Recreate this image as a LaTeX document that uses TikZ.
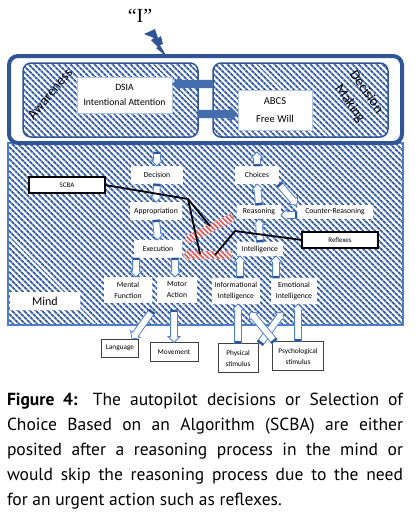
\documentclass[tikz,border=0pt]{standalone}
\usepackage{fontspec}
\setmainfont{Carlito}
\newfontfamily\capfont{PT Sans}
\newfontfamily\quotefont{Liberation Serif}
\usetikzlibrary{calc,patterns.meta,shapes.arrows}

\definecolor{frameblue}{RGB}{47,85,151}
\definecolor{hatchblue}{RGB}{50,92,168}
\definecolor{arrowblue}{RGB}{80,130,205}
\definecolor{mindblue}{RGB}{78,124,201}
\definecolor{barred}{RGB}{226,88,88}

\begin{document}
\begin{tikzpicture}[x=1pt,y=-1pt,every node/.style={outer sep=0pt}]
\tikzset{
    hatch/.style    = {pattern={Lines[angle=-45,distance=4pt,line width=2pt]},pattern color=hatchblue},
    inbox/.style    = {draw=frameblue,line width=1.5pt,rounded corners=8pt,hatch,minimum width=175pt,minimum height=74pt},
    whitebox/.style = {fill=white,draw=arrowblue!45,line width=0.6pt,align=center,font=\fontsize{9.7}{15}\selectfont},
    lbl/.style      = {fill=white,inner sep=1pt,minimum height=18pt,align=center,font=\fontsize{7.7}{11}\selectfont},
    blackbox/.style = {draw=black,line width=1.8pt,fill=white,minimum width=76pt,minimum height=16pt,font=\fontsize{7}{9}\selectfont},
    outbox/.style   = {draw=black!75,line width=0.8pt,fill=white,inner sep=2pt,align=center,font=\fontsize{7.3}{11}\selectfont},
    hollow/.style   = {single arrow,draw=arrowblue,fill=white,line width=0.8pt,inner sep=3pt,single arrow head extend=2.5pt},
    hollow cap/.style = {fill=frameblue,minimum width=2.2pt,minimum height=6.8pt,inner sep=0pt},
    solidarr/.style = {single arrow,fill=arrowblue!85!black,inner sep=4pt,single arrow head extend=4pt},
    solidarr cap/.style = {inner sep=0pt},
    redbar/.style   = {single arrow,preaction={fill=white},pattern={Lines[angle=-45,distance=3.5pt,line width=1.7pt]},
                        pattern color=barred,draw=barred!60,line width=0.3pt,inner sep=3.8pt,single arrow head extend=1.5pt},
    redbar cap/.style = {inner sep=0pt},
    link/.style     = {black,line width=1.8pt},
    blockarr/.style = {to path={let \p1=(\tikztostart),\p2=(\tikztotarget),
                        \n1={veclen(\x2-\x1,\y2-\y1)},\n2={atan2(\y2-\y1,\x2-\x1)} in
                        node[#1,minimum height=\n1,rotate=\n2,anchor=tail] at (\p1) {}
                        node[#1 cap,rotate=\n2,anchor=west] at (\p1) {}}}
}

\useasboundingbox (0,0) rectangle (418,515);

%% the mind and the "I" frame
\node (mindarea) [hatch,draw=mindblue,line width=1.5pt,minimum width=395pt,minimum height=182pt] at (205.5,234) {};
\node (frame) [draw=frameblue,fill=white,line width=4pt,rounded corners=9pt,minimum width=393pt,minimum height=87pt] at (205.5,99.5) {};

\node (ego) [font=\quotefont\fontsize{20}{22}\selectfont] at (140,16) {“I”};
\fill[frameblue] (144,34) -- (155,29) -- (158,38) -- (161,36) -- (163,44) -- (160,45) -- (167,57)
    -- (156,48) -- (158,47) -- (151,40) -- (154,38) -- cycle;

\node (aware) [inbox] at (110.5,100) {};
\node (decmak) [inbox] at (300.5,100) {};
\node (awlbl) [rotate=50,font=\fontsize{14}{16}\selectfont] at (50,94) {Awareness};
\node (dmlbl) [rotate=-55,align=center,font=\fontsize{14}{20}\selectfont] at (358,98) {Decision\\Making};
\node (dsia) [whitebox,minimum width=95pt,minimum height=36pt] at (124.5,95) {DSIA\\Intentional Attention};
\node (abcs) [whitebox,minimum width=74pt,minimum height=40pt,font=\fontsize{10.5}{18}\selectfont] at (275,110) {ABCS\\Free Will};

\coordinate (dsiain) at ([yshift=11pt]dsia.east);
\coordinate (abcsin) at ([yshift=-4pt]abcs.west);
\path (dsiain -| decmak.west) to[blockarr=solidarr] (dsiain);
\path (abcsin -| aware.east) to[blockarr=solidarr] (abcsin);

%% inside the mind
\node (dec) [lbl,minimum width=52pt] at (157,175) {Decision};
\node (appr) [lbl,minimum width=52pt] at (156,211) {Appropriation};
\node (exec) [lbl,minimum width=48pt] at (158,249) {Execution};
\node (cho) [lbl,minimum width=44pt] at (257,175) {Choices};
\node (reas) [lbl,minimum width=44pt,minimum height=14pt] at (259,212) {Reasoning};
\node (counter) [lbl,minimum width=76pt,minimum height=14pt] at (335,212) {Counter-Reasoning};
\node (intl) [lbl,minimum width=46pt,minimum height=14pt] at (260,249) {Intelligence};
\node (mental) [lbl,minimum width=48pt,minimum height=26pt] at (128,290) {Mental\\Function};
\node (motor) [lbl,minimum width=40pt,minimum height=26pt] at (177,290) {Motor\\Action};
\node (info) [lbl,minimum width=48pt,minimum height=26pt] at (236,291) {Informational\\Intelligence};
\node (emo) [lbl,minimum width=46pt,minimum height=26pt] at (294,291) {Emotional\\Intelligence};
\node (mindlbl) [lbl,minimum width=70pt,font=\fontsize{12}{14}\selectfont] at (45,301) {Mind};

\node (scba) [blackbox] at (67,185) {SCBA};
\node (refl) [blackbox] at (340,240) {Reflexes};

%% outside boxes
\node (lang) [outbox,minimum width=37pt,minimum height=18pt] at (120,348) {Language};
\node (move) [outbox,minimum width=48pt,minimum height=19pt] at (174,352) {Movement};
\node (phys) [outbox,minimum width=40pt,minimum height=29pt] at (238,358) {Physical\\stimulus};
\node (psy) [outbox,minimum width=51pt,minimum height=29pt] at (298,356) {Psychological\\stimulus};

%% left column, going down
\coordinate (dectop) at ([yshift=14pt]dec.north);
\path (dectop) to[blockarr=hollow] (dec.north);
\path (dec.south) to[blockarr=hollow] (appr.north);
\path (appr.south) to[blockarr=hollow] (exec.north);
\coordinate (exl) at ([xshift=-22pt]exec.south);
\coordinate (exr) at ([xshift=17pt]exec.south);
\path (exl) to[blockarr=hollow] (exl |- mental.north);
\path (exr) to[blockarr=hollow] (exr |- motor.north);

%% right column, going up
\coordinate (chotop) at ([yshift=14pt]cho.north);
\path (cho.north) to[blockarr=hollow] (chotop);
\path (reas.north) to[blockarr=hollow] (cho.south);
\path (intl.north) to[blockarr=hollow] (reas.south);
\coordinate (inl) at ([xshift=-20pt]intl.south);
\coordinate (inr) at ([xshift=16pt]intl.south);
\path (inl |- info.north) to[blockarr=hollow] (inl);
\path (inr |- emo.north) to[blockarr=hollow] (inr);
\path (cho.south east) to[blockarr=hollow] (counter.north west);
\path ([yshift=-3pt]counter.west) to[blockarr=hollow] ([yshift=-3pt]reas.east);

%% short cuts to execution
\path ([xshift=-4pt,yshift=-5pt]reas.west) to[blockarr=redbar] ([xshift=3pt,yshift=8pt]exec.east);
\path ([xshift=-5pt,yshift=-6pt]intl.west) to[blockarr=redbar] ([xshift=1pt,yshift=-6pt]exec.east);

\coordinate (sk) at (188,199);
\coordinate (sa) at (210,226);
\coordinate (sb) at (200,254);
\draw[link] (scba.east) -- (sk) -- (sa);
\draw[link] (sk) -- (sb);
\coordinate (rk) at (235,231);
\coordinate (rb) at (215,255);
\draw[link] (refl.west) -- (rk) -- (rb);

%% out of and into the mind
\path ([yshift=-8pt]mental.south east) to[blockarr=hollow] ([xshift=12pt]lang.north);
\path (move.north |- 0,310) to[blockarr=hollow] (move.north);
\path (phys.north) to[blockarr=hollow] (phys.north |- info.south);
\path (psy.north) to[blockarr=hollow] (psy.north |- emo.south);
\path ([xshift=2pt]phys.north east) to[blockarr=hollow] ([xshift=12pt,yshift=-8pt]emo.south west);
\path ([xshift=2pt]psy.north west) to[blockarr=hollow] ([xshift=-10pt,yshift=-8pt]info.south east);

%% caption
\node (caption) [anchor=north west,inner sep=0pt,align=left,font=\capfont\fontsize{17.5}{25}\selectfont] at (7,393)
    {\makebox[396pt][s]{\textbf{Figure 4:} The autopilot decisions or Selection of}\\
     \makebox[396pt][s]{Choice Based on an Algorithm (SCBA) are either}\\
     \makebox[396pt][s]{posited after a reasoning process in the mind or}\\
     \makebox[396pt][s]{would skip the reasoning process due to the need}\\
     for an urgent action such as reflexes.};

\end{tikzpicture}
\end{document}
